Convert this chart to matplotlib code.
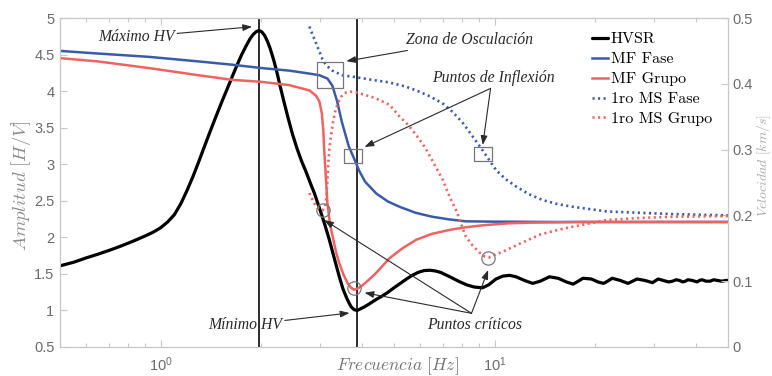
import numpy as np
import matplotlib
matplotlib.use("Agg")
import matplotlib.pyplot as plt
from matplotlib.ticker import FixedLocator, FuncFormatter, LogLocator, NullFormatter

# ---------------- data ----------------
hv_freq = [0.50, 0.55, 0.60, 0.65, 0.70, 0.75, 0.80, 0.85, 0.90, 0.95, 1.00, 1.05,
           1.10, 1.15, 1.20, 1.25, 1.30, 1.35, 1.40, 1.45, 1.50, 1.55, 1.60, 1.65,
           1.70, 1.75, 1.80, 1.85, 1.89, 1.93, 1.97, 2.01, 2.05, 2.09, 2.13, 2.18,
           2.23, 2.28, 2.34, 2.41, 2.48, 2.56, 2.64, 2.73, 2.81, 2.89, 2.96, 3.03,
           3.11, 3.20, 3.31, 3.43, 3.52, 3.60, 3.66, 3.72, 3.80, 3.88, 3.96, 4.08,
           4.22, 4.42, 4.62, 4.80, 5.00, 5.22, 5.45, 5.67, 5.90, 6.15, 6.40, 6.65,
           6.90, 7.12, 7.35, 7.80, 8.25, 8.70, 9.20, 9.60, 10.1, 10.6, 11.1, 11.6,
           12.3, 13.0, 13.7, 14.6, 15.5, 16.4, 17.2, 17.8, 18.4, 19.5, 20.4, 21.2,
           21.8, 22.5, 23.8, 25.1, 25.9, 26.7, 28.2, 29.7, 30.9, 32.0, 33.2, 34.1,
           35.0, 35.8, 36.6, 37.3, 37.9, 39.1, 40.4, 41.1, 41.8, 43.0, 44.2, 45.3,
           46.5, 47.9, 49.3, 50.0]
hv_amp = [1.61, 1.66, 1.72, 1.77, 1.82, 1.87, 1.92, 1.97, 2.02, 2.07, 2.13, 2.21,
          2.31, 2.46, 2.64, 2.83, 3.03, 3.23, 3.42, 3.60, 3.77, 3.93, 4.08, 4.23,
          4.37, 4.50, 4.61, 4.71, 4.77, 4.81, 4.83, 4.81, 4.76, 4.68, 4.58, 4.43,
          4.26, 4.07, 3.86, 3.63, 3.42, 3.22, 3.05, 2.89, 2.74, 2.60, 2.46, 2.32,
          2.16, 1.97, 1.72, 1.46, 1.29, 1.18, 1.11, 1.05, 1.01, 1.00, 1.02, 1.05,
          1.09, 1.15, 1.20, 1.25, 1.31, 1.37, 1.43, 1.48, 1.52, 1.545, 1.55, 1.54,
          1.52, 1.49, 1.46, 1.40, 1.35, 1.32, 1.31, 1.35, 1.43, 1.47, 1.48, 1.46,
          1.41, 1.37, 1.40, 1.46, 1.44, 1.39, 1.36, 1.40, 1.44, 1.43, 1.39, 1.37,
          1.40, 1.44, 1.41, 1.37, 1.40, 1.43, 1.41, 1.38, 1.43, 1.41, 1.39, 1.40,
          1.42, 1.41, 1.39, 1.40, 1.42, 1.41, 1.39, 1.41, 1.42, 1.40, 1.40, 1.42,
          1.41, 1.40, 1.41, 1.41]

mf_fase_freq = [0.50, 0.65, 0.92, 1.30, 1.64, 2.00, 2.43, 2.75, 2.99, 3.16, 3.27,
                3.38, 3.49, 3.66, 3.80, 3.94, 4.10, 4.43, 4.80, 5.20, 5.80, 6.50,
                7.30, 8.20, 10.0, 15.0, 50.0]
mf_fase_vel = [0.450, 0.446, 0.441, 0.434, 0.429, 0.424, 0.420, 0.416, 0.413, 0.408,
               0.397, 0.373, 0.342, 0.305, 0.286, 0.267, 0.251, 0.233, 0.221, 0.213,
               0.204, 0.198, 0.194, 0.191, 0.1905, 0.190, 0.190]

mf_grupo_freq = [0.50, 0.65, 0.92, 1.30, 1.64, 2.00, 2.43, 2.79, 2.92, 2.99, 3.04,
                 3.07, 3.09, 3.12, 3.16, 3.22, 3.28, 3.35, 3.43, 3.53, 3.63, 3.72,
                 3.80, 3.90, 4.03, 4.20, 4.41, 4.85, 5.30, 5.83, 6.50, 7.34, 8.20,
                 9.24, 11.0, 13.0, 18.0, 50.0]
mf_grupo_vel = [0.439, 0.434, 0.424, 0.413, 0.406, 0.403, 0.398, 0.390, 0.382, 0.373,
                0.355, 0.330, 0.300, 0.265, 0.218, 0.185, 0.167, 0.145, 0.127, 0.110,
                0.097, 0.090, 0.087, 0.089, 0.094, 0.102, 0.112, 0.135, 0.150, 0.163,
                0.172, 0.178, 0.182, 0.185, 0.188, 0.189, 0.190, 0.190]

ms_fase_freq = [2.79, 2.92, 3.06, 3.15, 3.27, 3.50, 3.85, 4.30, 4.85, 5.40, 5.83,
                6.40, 7.00, 7.50, 8.05, 8.60, 9.24, 9.70, 10.1, 10.8, 11.6, 12.7,
                14.0, 15.5, 17.2, 21.7, 27.0, 34.3, 50.0]
ms_fase_vel = [0.487, 0.462, 0.436, 0.427, 0.420, 0.413, 0.410, 0.406, 0.402, 0.396,
               0.390, 0.381, 0.370, 0.357, 0.340, 0.320, 0.298, 0.282, 0.269, 0.255,
               0.244, 0.232, 0.223, 0.217, 0.213, 0.206, 0.204, 0.202, 0.200]

ms_grupo_freq = [2.79, 2.86, 2.93, 3.00, 3.06, 3.11, 3.14, 3.16, 3.18, 3.20, 3.24,
                 3.28, 3.33, 3.39, 3.47, 3.55, 3.70, 3.85, 4.10, 4.41, 4.85, 5.20,
                 5.50, 5.83, 6.20, 6.50, 7.00, 7.34, 7.70, 8.20, 8.60, 9.00, 9.30,
                 9.60, 10.0, 10.6, 11.9, 13.7, 15.5, 17.2, 21.7, 27.0, 34.3, 50.0]
ms_grupo_vel = [0.234, 0.222, 0.213, 0.209, 0.208, 0.213, 0.230, 0.254, 0.280, 0.300,
                0.322, 0.340, 0.357, 0.370, 0.380, 0.386, 0.388, 0.387, 0.383, 0.378,
                0.368, 0.350, 0.338, 0.322, 0.303, 0.284, 0.254, 0.228, 0.206, 0.168,
                0.154, 0.144, 0.138, 0.136, 0.140, 0.145, 0.157, 0.171, 0.178, 0.183,
                0.193, 0.196, 0.198, 0.199]

# marked points (frequency [Hz], velocity [km/s])
osc_freq, osc_vel = [3.22], [0.413]
infl_freq, infl_vel = [3.78, 9.22], [0.290, 0.293]
crit_freq, crit_vel = [3.06, 3.80, 9.55], [0.208, 0.089, 0.135]

amp_ticks = [0.5, 1, 1.5, 2, 2.5, 3, 3.5, 4, 4.5, 5]
vel_ticks = [0, 0.1, 0.2, 0.3, 0.4, 0.5]

# ---------------- style ----------------
plt.rcParams.update({
    "font.family": "Liberation Sans",
    "mathtext.fontset": "cm",
    "axes.unicode_minus": False,
})

BLUE = "#3b5ba9"
RED = "#ec6461"
SPINE = "#c6c6c6"
TICKLAB = "#6b6b6b"
ANN = "#2a2a2a"

fig = plt.figure(figsize=(7.72, 3.76), dpi=100)
ax = fig.add_axes([60 / 772, 29 / 376, 668 / 772, 329 / 376])
ax.set_xscale("log")
ax2 = ax.twinx()

# HVSR on the amplitude axis
h_hv, = ax.plot(hv_freq, hv_amp, color="black", lw=2.3, label="HVSR",
                solid_joinstyle="round", solid_capstyle="round", zorder=3)

i_peak = int(np.argmax(hv_amp))
f_peak = hv_freq[i_peak]
f_min = hv_freq[i_peak + int(np.argmin(hv_amp[i_peak:]))]
ax.axvline(f_peak, color="#1c1c1c", lw=1.3, zorder=2)
ax.axvline(f_min, color="#1c1c1c", lw=1.3, zorder=2)

# dispersion curves on the velocity axis
h_mff, = ax2.plot(mf_fase_freq, mf_fase_vel, color=BLUE, lw=1.8, label="MF Fase")
h_mfg, = ax2.plot(mf_grupo_freq, mf_grupo_vel, color=RED, lw=1.8, label="MF Grupo")
h_msf, = ax2.plot(ms_fase_freq, ms_fase_vel, color=BLUE, lw=1.9,
                  linestyle=(0, (0.8, 1.3)), label="1ro MS Fase")
h_msg, = ax2.plot(ms_grupo_freq, ms_grupo_vel, color=RED, lw=1.9,
                  linestyle=(0, (0.8, 1.3)), label="1ro MS Grupo")

# axes limits and ticks
ax.set_xlim(0.5, 50)
ax.set_ylim(0.5, 5)
ax2.set_ylim(0, 0.5)
ax.xaxis.set_major_locator(LogLocator(base=10, numticks=10))
ax.xaxis.set_minor_locator(LogLocator(base=10, subs=np.arange(2, 10), numticks=10))
ax.xaxis.set_minor_formatter(NullFormatter())
ax.yaxis.set_major_locator(FixedLocator(amp_ticks))
ax.yaxis.set_major_formatter(FuncFormatter(lambda v, p: f"{v:g}"))
ax2.yaxis.set_major_locator(FixedLocator(vel_ticks))
ax2.yaxis.set_major_formatter(FuncFormatter(lambda v, p: f"{v:g}"))

for a in (ax, ax2):
    a.tick_params(which="both", direction="in", color=SPINE, width=0.8,
                  labelcolor=TICKLAB, labelsize=10.5)
    a.tick_params(which="major", length=5)
    a.tick_params(which="minor", length=3)
    for s in a.spines.values():
        s.set_color(SPINE)
        s.set_linewidth(0.8)
ax.tick_params(axis="x", which="both", top=True, pad=6)
ax.tick_params(axis="y", right=False, pad=4)
ax2.tick_params(axis="y", pad=3)

ax.set_xlabel(r"$Frecuencia\ [Hz]$", fontsize=12.5, color="#727272")
ax.xaxis.label.set_va("center")
ax.xaxis.set_label_coords(0.505, -0.058)
ax.set_ylabel(r"$Amplitud\ [H/V]$", fontsize=13.5, color="#8c8c8c")
ax.yaxis.label.set_va("center")
ax.yaxis.set_label_coords(-0.058, 0.49)
ax2.set_ylabel(r"$Velocidad\ [km/s]$", fontsize=10, color="#ababab")
ax2.yaxis.label.set_va("center")
ax2.yaxis.set_label_coords(1.0535, 0.55)

# highlighted points
box_w = [(-1, -0.79), (1, -0.79), (1, 0.79), (-1, 0.79), (-1, -0.79)]
ax2.plot(osc_freq, osc_vel, linestyle="none", marker="s", markersize=18.5,
         markerfacecolor="none", markeredgecolor="#777777", markeredgewidth=0.9)
ax2.plot(infl_freq, infl_vel, linestyle="none", marker=box_w, markersize=12.8,
         markerfacecolor="none", markeredgecolor="#777777", markeredgewidth=0.9)
ax2.plot(crit_freq, crit_vel, linestyle="none", marker="o", markersize=9.6,
         markerfacecolor="none", markeredgecolor="#777777", markeredgewidth=0.9)

# annotations
arrow = dict(arrowstyle="-|>,head_length=0.55,head_width=0.2", color=ANN, lw=0.8,
             shrinkA=0, shrinkB=0, mutation_scale=10)
tfont = dict(family="Liberation Serif", style="italic", size=11.3, color=ANN)

ax2.annotate("Máximo HV", xy=(1.88, 0.4867), xytext=(1.10, 0.471),
             ha="right", va="center", arrowprops=arrow, **tfont)
ax2.annotate("Zona de Osculación", xy=(3.60, 0.4344), xytext=(5.42, 0.467),
             ha="left", va="center", arrowprops=arrow, **tfont)
ax2.annotate("Mínimo HV", xy=(3.68, 0.0517), xytext=(2.31, 0.0334),
             ha="right", va="center", arrowprops=arrow, **tfont)

ax2.text(9.95, 0.409, "Puntos de Inflexión", ha="center", va="center", **tfont)
for xy in [(4.08, 0.304), (9.22, 0.307)]:
    ax2.annotate("", xy=xy, xytext=(9.73, 0.393), arrowprops=arrow)

ax2.text(8.70, 0.0334, "Puntos críticos", ha="center", va="center", **tfont)
for xy in [(3.09, 0.193), (4.08, 0.0825), (9.57, 0.117)]:
    ax2.annotate("", xy=xy, xytext=(8.53, 0.0512), arrowprops=arrow)

# legend
leg = ax2.legend([h_hv, h_mff, h_mfg, h_msf, h_msg],
                 ["HVSR", "MF Fase", "MF Grupo", "1ro MS Fase", "1ro MS Grupo"],
                 loc="upper left", bbox_to_anchor=(0.797, 0.957), frameon=False,
                 prop=dict(family="cmr10", size=11.5), handlelength=1.0,
                 handletextpad=0.15, labelspacing=0.36, borderpad=0,
                 borderaxespad=0)

fig.savefig("out.png", dpi=100)
